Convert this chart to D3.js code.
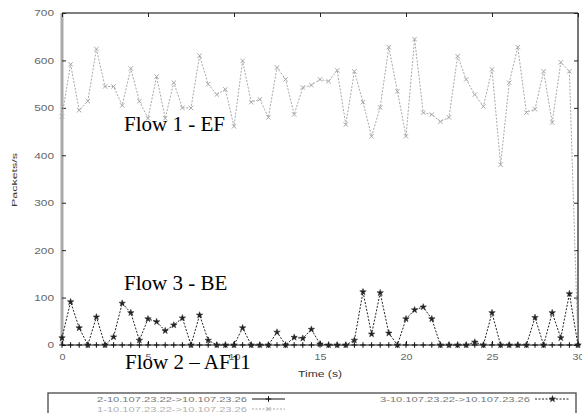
<!DOCTYPE html>
<html>
<head>
<meta charset="utf-8">
<script src="https://cdn.jsdelivr.net/npm/d3@7"></script>
<style>
  html, body { margin: 0; padding: 0; background: #fff; }
  svg { display: block; }
</style>
</head>
<body>
<svg id="chart" width="582" height="413"></svg>
<script>
// ---- data ----
const times = [0,0.5,1,1.5,2,2.5,3,3.5,4,4.5,5,5.5,6,6.5,7,7.5,8,8.5,9,9.5,10,10.5,11,11.5,12,12.5,13,13.5,14,14.5,15,15.5,16,16.5,17,17.5,18,18.5,19,19.5,20,20.5,21,21.5,22,22.5,23,23.5,24,24.5,25,25.5,26,26.5,27,27.5,28,28.5,29,29.5,30];
const flow1 = [482,592,495,514,624,545,545,505,583,514,478,566,478,553,500,500,610,550,528,539,461,599,512,518,480,585,560,486,543,548,560,556,579,465,577,512,440,501,628,535,440,645,490,486,471,480,609,560,528,503,581,380,553,628,490,497,577,469,596,577,0];
const flow2 = [0,0,0,0,0,0,0,0,0,0,0,0,0,0,0,0,0,0,0,0,0,0,0,0,0,0,0,0,0,0,0,0,0,0,0,0,0,0,0,0,0,0,0,0,0,0,0,0,0,0,0,0,0,0,0,0,0,0,0,0,0];
const flow3 = [15,91,36,0,59,0,17,88,68,10,55,49,30,42,57,0,63,10,0,0,0,36,0,0,0,27,0,16,14,33,2,0,0,0,10,112,23,110,25,0,55,74,80,55,0,0,0,0,6,0,68,0,0,0,0,58,0,68,15,108,0];
const xTicks = [0,5,10,15,20,25,30];
const yTicks = [0,100,200,300,400,500,600,700];
const legendNames = ["2-10.107.23.22->10.107.23.26","1-10.107.23.22->10.107.23.26","3-10.107.23.22->10.107.23.26"];
const flowLabels = ["Flow 1 - EF","Flow 3 - BE","Flow 2 \u2013 AF11"];

// ---- layout ----
const svg = d3.select("#chart");
const L = 62, R = 578, T = 13, B = 345;
const x = d3.scaleLinear().domain([0,30]).range([L,R]);
const y = d3.scaleLinear().domain([0,700]).range([B,T]);
const tickFont = "'Liberation Sans', Arial, sans-serif";

// frame
svg.append("line").attr("x1",L).attr("x2",R).attr("y1",T).attr("y2",T).attr("stroke","#555").attr("stroke-width",1.6);
svg.append("line").attr("x1",R).attr("x2",R).attr("y1",T).attr("y2",B).attr("stroke","#555").attr("stroke-width",1.6);
svg.append("line").attr("x1",L).attr("x2",L).attr("y1",T).attr("y2",B).attr("stroke","#aaa").attr("stroke-width",3);

function styleAxis(g, labels, perChar) {
  g.select(".domain").remove();
  g.selectAll(".tick line").attr("stroke","#222").attr("stroke-width",1);
  if (labels) {
    g.selectAll(".tick text")
      .attr("font-family", tickFont).attr("font-size", 9).attr("fill","#666")
      .each(function(){ const t=d3.select(this); t.attr("textLength", t.text().length*perChar).attr("lengthAdjust","spacingAndGlyphs"); });
  } else {
    g.selectAll(".tick text").remove();
  }
}

svg.append("g").attr("transform",`translate(${L},0)`)
  .call(d3.axisLeft(y).tickValues(yTicks).tickSizeInner(-4).tickSizeOuter(0).tickPadding(8).tickFormat(d3.format("d")))
  .call(g => styleAxis(g, true, 6.6));
svg.append("g").attr("transform",`translate(${R},0)`)
  .call(d3.axisLeft(y).tickValues(yTicks).tickSizeInner(4).tickSizeOuter(0))
  .call(g => styleAxis(g, false));
svg.append("g").attr("transform",`translate(0,${B})`)
  .call(d3.axisBottom(x).tickValues(xTicks).tickSizeInner(-4).tickSizeOuter(0).tickPadding(9).tickFormat(d3.format("d")))
  .call(g => styleAxis(g, true, 6));
svg.append("g").attr("transform",`translate(0,${T})`)
  .call(d3.axisBottom(x).tickValues(xTicks).tickSizeInner(4).tickSizeOuter(0))
  .call(g => styleAxis(g, false));

// axis titles
svg.append("text").attr("x",(L+R)/2).attr("y",377).attr("text-anchor","middle")
  .attr("font-family",tickFont).attr("font-size",9).attr("fill","#333")
  .attr("textLength",44).attr("lengthAdjust","spacingAndGlyphs").text("Time (s)");
svg.append("text").attr("transform","translate(17,180) rotate(-90)").attr("text-anchor","middle")
  .attr("font-family",tickFont).attr("font-size",8).attr("fill","#333")
  .attr("textLength",54).attr("lengthAdjust","spacingAndGlyphs").text("Packets/s");

// series
const series = [
  {vals: flow1, color:"#a8a8a8", dash:"2,1.5", marker:"x"},
  {vals: flow2, color:"#111", dash:null, marker:"plus"},
  {vals: flow3, color:"#222", dash:"2,1.5", marker:"star"}
];
const markerPath = {
  x: "M-2.2,-2.2L2.2,2.2M-2.2,2.2L2.2,-2.2",
  plus: "M-2.8,0H2.8M0,-2.8V2.8",
  star: d3.symbol(d3.symbolStar, 13)()
};
function drawMarker(g, type, color) {
  const p = g.append("path").attr("d", markerPath[type]);
  if (type === "star") p.attr("fill", color).attr("stroke", color).attr("stroke-width", 0.5);
  else p.attr("fill","none").attr("stroke", color).attr("stroke-width", 1);
  return p;
}
const line = d3.line().x((d,i)=>x(times[i])).y(d=>y(d));
series.forEach(s => {
  const g = svg.append("g");
  g.append("path").datum(s.vals).attr("d", line).attr("fill","none")
    .attr("stroke", s.color).attr("stroke-width", 1)
    .attr("stroke-dasharray", s.dash);
  s.vals.forEach((v,i) => {
    const mg = g.append("g").attr("transform",`translate(${x(times[i])},${y(v)})`);
    drawMarker(mg, s.marker, s.color);
  });
});

// flow labels
const labelPos = [[124,131],[124,290],[125,369]];
flowLabels.forEach((t,i) => {
  svg.append("text").attr("x",labelPos[i][0]).attr("y",labelPos[i][1])
    .attr("font-family","'Liberation Serif','Times New Roman',serif").attr("font-size",21)
    .attr("fill","#000").text(t);
});

// legend
svg.append("rect").attr("x",48).attr("y",393).attr("width",528).attr("height",30)
  .attr("fill","none").attr("stroke","#555").attr("stroke-width",1.4);
const legendItems = [
  {name: legendNames[0], s: series[1], tx: 247, ty: 402, lx1: 252, lx2: 285, tc:"#777"},
  {name: legendNames[1], s: series[0], tx: 247, ty: 412, lx1: 252, lx2: 285, tc:"#b0b0b0"},
  {name: legendNames[2], s: series[2], tx: 530, ty: 402, lx1: 535, lx2: 570, tc:"#777"}
];
legendItems.forEach(it => {
  svg.append("text").attr("x", it.tx - 150).attr("y", it.ty)
    .attr("font-family",tickFont).attr("font-size",8).attr("fill",it.tc)
    .attr("textLength",150).attr("lengthAdjust","spacingAndGlyphs").text(it.name);
  const ly = it.ty - 3;
  svg.append("line").attr("x1",it.lx1).attr("x2",it.lx2).attr("y1",ly).attr("y2",ly)
    .attr("stroke", it.s.color).attr("stroke-width",1).attr("stroke-dasharray", it.s.dash);
  const mg = svg.append("g").attr("transform",`translate(${(it.lx1+it.lx2)/2},${ly})`);
  drawMarker(mg, it.s.marker, it.s.color);
});
</script>
</body>
</html>
